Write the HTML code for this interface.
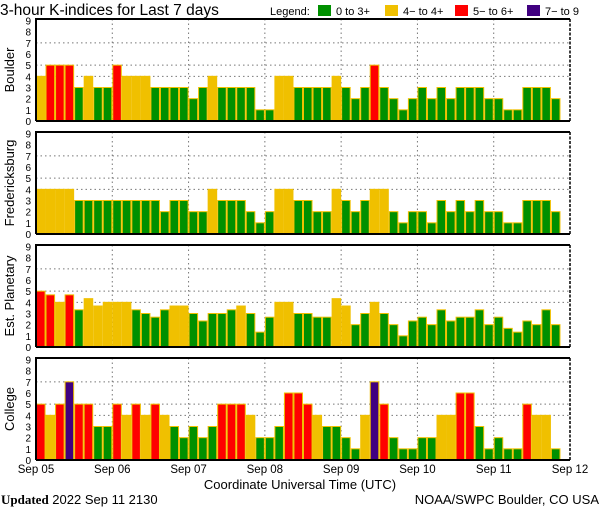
<!DOCTYPE html>
<html><head><meta charset="utf-8"><style>
html,body{margin:0;padding:0;background:#fff;width:600px;height:510px;overflow:hidden}
svg text{font-family:"Liberation Sans",sans-serif}
</style></head><body>
<svg id="chart" width="600" height="510" xmlns="http://www.w3.org/2000/svg">
<text x="0" y="15" font-size="15.5">3-hour K-indices for Last 7 days</text>
<g font-size="11">
<text x="270" y="15">Legend:</text>
<rect x="318" y="5" width="13" height="11" fill="#009000"/><text x="336" y="15">0 to 3+</text>
<rect x="385" y="5" width="13" height="11" fill="#f0c000"/><text x="403" y="15">4− to 4+</text>
<rect x="455" y="5" width="13" height="11" fill="#ff0000"/><text x="473" y="15">5− to 6+</text>
<rect x="527" y="5" width="13" height="11" fill="#400080"/><text x="545" y="15">7− to 9</text>
</g>
<g id="panels"></g>
<text x="300" y="489" font-size="13" text-anchor="middle">Coordinate Universal Time (UTC)</text>
<text x="1" y="504" font-size="13"><tspan font-family="Liberation Serif" font-weight="bold">Updated</tspan> 2022 Sep 11 2130</text>
<text x="599" y="504" font-size="13" text-anchor="end">NOAA/SWPC Boulder, CO USA</text>
</svg>
<script>
const stations = ["Boulder","Fredericksburg","Est. Planetary","College"];
const dayLabels = ["Sep 05","Sep 06","Sep 07","Sep 08","Sep 09","Sep 10","Sep 11","Sep 12"];
const yTicks = [0,1,2,3,4,5,6,7,8,9];
const boulder = [4,5,5,5,3,4,3,3, 5,4,4,4,3,3,3,3, 2,3,4,3,3,3,3,1, 1,4,4,3,3,3,3,4, 3,2,3,5,3,2,1,2, 3,2,3,2,3,3,3,2, 2,1,1,3,3,3,2,0];
const fredericksburg = [4,4,4,4,3,3,3,3, 3,3,3,3,3,2,3,3, 2,2,4,3,3,3,2,1, 2,4,4,3,3,2,2,4, 3,2,3,4,4,2,1,2, 2,1,3,2,3,2,3,2, 2,1,1,3,3,3,2,0];
const planetary = [5,4.67,4,4.67,3.33,4.33,3.67,4, 4,4,3.33,3,2.67,3.33,3.67,3.67, 3,2.33,3,3,3.33,3.67,3,1.33, 2.67,4,4,3,3,2.67,2.67,4.33, 3.67,2,3,4,3,2,1,2.33, 2.67,2,3.33,2.33,2.67,2.67,3.33,2, 2.67,1.67,1.33,2.33,2,3.33,2,null];
const college = [5,4,5,7,5,5,3,3, 5,4,5,4,5,4,3,2, 3,2,3,5,5,5,4,2, 2,3,6,6,5,4,3,3, 2,1,4,7,5,2,1,1, 2,2,4,4,6,6,3,1, 2,1,1,5,4,4,1,0];
const series = [boulder,fredericksburg,planetary,college];

const NS="http://www.w3.org/2000/svg";
const X0=36,X1=570,PT=19,PH=102,GAP=113;
const N=56;
function xPos(i){return X0+(X1-X0)*i/N;}
function yPos(p,v){return PT+GAP*p+PH - v*(PH-1.5)/9;}
function color(v){return v>=6.67?"#400080":v>=4.67?"#ff0000":v>=3.67?"#f0c000":"#009000";}
function mk(tag,attrs,parent){const e=document.createElementNS(NS,tag);for(const k in attrs)e.setAttribute(k,attrs[k]);parent.appendChild(e);return e;}
const root=document.getElementById("panels");
series.forEach((data,p)=>{
  const g=mk("g",{},root);
  
  
  const top=PT+GAP*p, bot=top+PH;
  // grid
  [4,5,7].forEach(v=>{const l=mk("line",{x1:X0,x2:X1,y1:yPos(p,v),y2:yPos(p,v),stroke:"#777","stroke-dasharray":"1.5,3"},g);
    
    });
  for(let d=1;d<7;d++){const x=xPos(d*8);const l=mk("line",{x1:x,x2:x,y1:top,y2:bot,stroke:"#777","stroke-dasharray":"1.5,3"},g);
    
    }
  // bars
  data.forEach((v,i)=>{
    if(v===null)return;
    const x=xPos(i),w=xPos(i+1)-x,y=yPos(p,v);
    const r=mk("rect",{x:x+0.5,y:y,width:w-1,height:Math.max(bot-y,0.5),fill:color(v),stroke:"#f0c000","stroke-width":1},g);
    
    
  });
  // frame
  const f=mk("path",{d:`M${X0},${bot} V${top} H${X1}`,fill:"none",stroke:"#000","stroke-width":2},g);
  
  
  mk("line",{x1:X1,x2:X1,y1:top,y2:bot,stroke:"#000","stroke-width":1.5,"stroke-dasharray":"3,1.5"},g);
  mk("line",{x1:X0,x2:X1,y1:bot,y2:bot,stroke:"#000","stroke-width":2},g);
  // y ticks
  yTicks.forEach(t=>{const tx=mk("text",{x:31,y:yPos(p,t)+4,"font-size":"10","text-anchor":"end"},g);tx.textContent=t;
    
    });
  // station label
  const cy=top+PH/2;
  const st=mk("text",{x:0,y:0,"font-size":"13","text-anchor":"middle",transform:`translate(14,${cy}) rotate(-90)`},g);
  st.textContent=stations[p];
  
  
});
const svg=document.getElementById("chart");
dayLabels.forEach((lab,d)=>{
  const t=mk("text",{x:xPos(d*8),y:473,"font-size":"11.5","text-anchor":"middle"},svg);
  t.textContent=lab;
  
  
});
</script>
</body></html>
